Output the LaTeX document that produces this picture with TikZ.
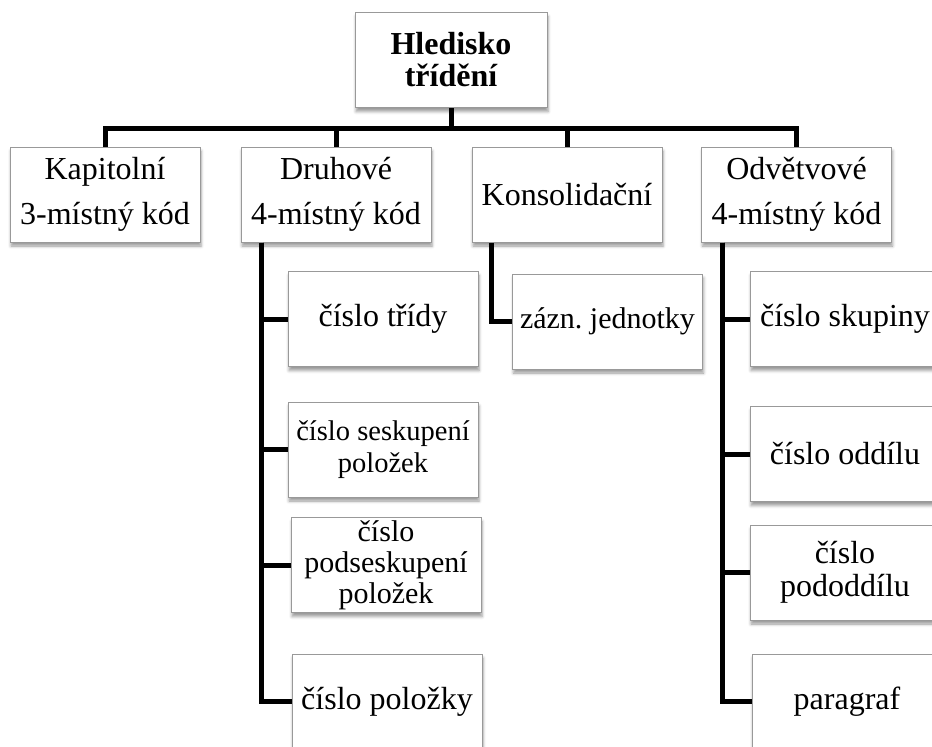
\documentclass[tikz,border=0pt]{standalone}
\usepackage{fontspec}
\setmainfont{Liberation Serif}
\usetikzlibrary{shadows.blur}

\begin{document}
\begin{tikzpicture}[x=1pt,y=1pt,
		box/.style={draw=black!40, line width=1pt, fill=white, align=center, inner sep=1pt,
			minimum width=190pt, minimum height=95pt,
			blur shadow={shadow xshift=1pt, shadow yshift=-4pt, shadow blur radius=3pt, shadow opacity=40},
			font=\fontsize{32}{33}\selectfont},
		conn/.style={line width=5pt, line join=miter}]
			\useasboundingbox (0,0) rectangle (932,-747);
			\clip (0,0) rectangle (932,-747);
			% root and first level
			\node[box, minimum width=192pt, font=\fontsize{32}{32}\selectfont\bfseries] (root) at (451,-60) {Hledisko\\třídění};
			\node[box, font=\fontsize{32}{45}\selectfont] (kap) at (105,-194.5) {Kapitolní\\3-místný kód};
			\node[box, font=\fontsize{32}{45}\selectfont] (druh) at (336,-194.5) {Druhové\\4-místný kód};
			\node[box] (kons) at (567,-194.5) {Konsolidační};
			\node[box, font=\fontsize{32}{45}\selectfont] (odv) at (796.5,-194.5) {Odvětvové\\4-místný kód};
			% Druhove
			\node[box] (tridy) at (383,-319) {číslo třídy};
			\node[box, font=\fontsize{28.5}{32}\selectfont] (sesk) at (383,-449.5) {číslo seskupení\\položek};
			\node[box, font=\fontsize{30}{31}\selectfont] (podsesk) at (386,-565) {číslo\\podseskupení\\položek};
			\node[box] (polozky) at (387,-701.5) {číslo položky};
			% Konsolidacni
			\node[box, font=\fontsize{30}{32}\selectfont] (zazn) at (607.5,-321.5) {zázn.\ jednotky};
			% Odvetvove
			\node[box] (skupiny) at (845,-319) {číslo skupiny};
			\node[box] (oddilu) at (845,-454) {číslo oddílu};
			\node[box] (pododdilu) at (845,-572.5) {číslo\\pododdílu};
			\node[box] (paragraf) at (847,-701.5) {paragraf};
			% connectors
			\coordinate (bar) at (451,-128);
			\draw[conn] (root.south) -- (root.south |- bar);
			\draw[conn] (kap.north) |- (bar) -| (odv.north);
			\draw[conn] (druh.north) -- (druh.north |- bar);
			\draw[conn] (kons.north) -- (kons.north |- bar);
			\foreach \c in {tridy,sesk,podsesk,polozky}
				\draw[conn] ([xshift=21pt]druh.south west) |- (\c.west);
			\draw[conn] ([xshift=20pt]kons.south west) |- (zazn.west);
			\foreach \c in {skupiny,oddilu,pododdilu,paragraf}
				\draw[conn] ([xshift=21pt]odv.south west) |- (\c.west);
		\end{tikzpicture}
\end{document}
